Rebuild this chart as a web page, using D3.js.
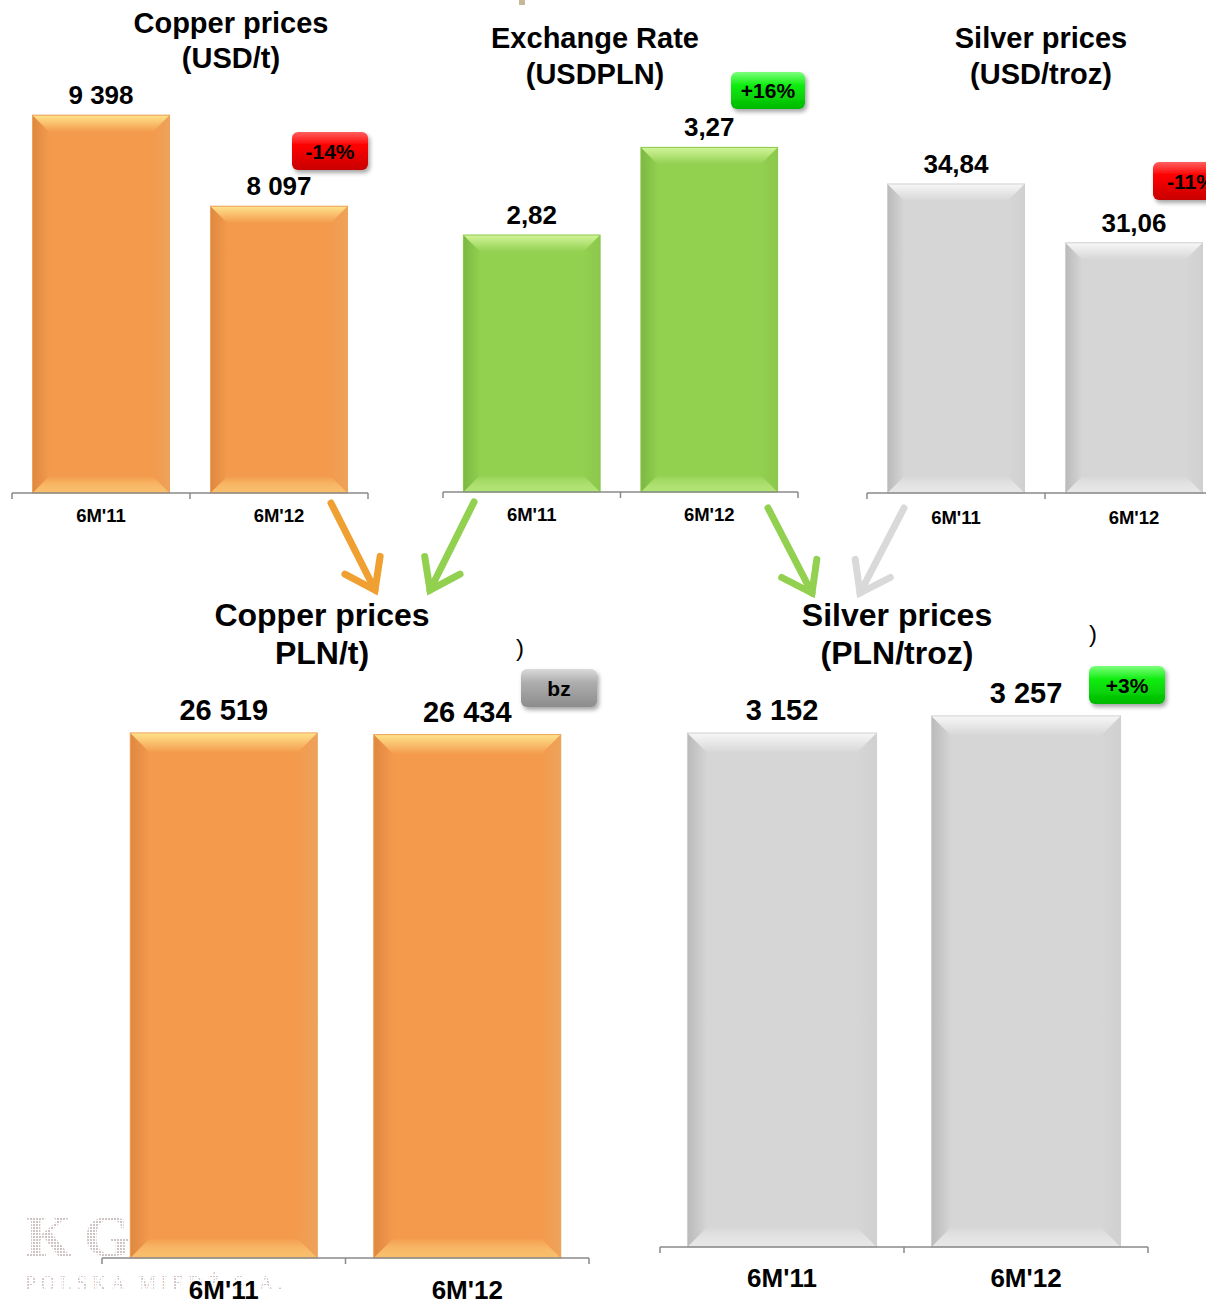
<!DOCTYPE html>
<html><head><meta charset="utf-8">
<script src="https://cdn.jsdelivr.net/npm/d3@7"></script>
<style>html,body{margin:0;padding:0;background:#fff}svg{display:block}text{font-family:"Liberation Sans",Arial,sans-serif;font-weight:bold}</style>
</head><body>
<svg id="c" width="1206" height="1301"></svg>
<script>
const categories = ["6M'11", "6M'12"];
const copperUsd = [9398, 8097];
const usdPln = [2.82, 3.27];
const silverUsd = [34.84, 31.06];
const copperPln = [26519, 26434];
const silverPln = [3152, 3257];
const changeLabels = ["-14%", "+16%", "-11%", "bz", "+3%"];
const titleCopperUsd = ["Copper prices", "(USD/t)"];
const titleRate = ["Exchange Rate", "(USDPLN)"];
const titleSilverUsd = ["Silver prices", "(USD/troz)"];
const titleCopperPln = ["Copper prices", "PLN/t)"];
const titleSilverPln = ["Silver prices", "(PLN/troz)"];

const loc = d3.formatLocale({decimal: ",", thousands: " ", grouping: [3], currency: ["", ""]});
const fInt = loc.format(",d"), fDec = loc.format(",.2f");

const palettes = {
  orange: {base: "#F39A4C", light: "#FFE38C", dark: "#DE8840", edge: "#EDA35C"},
  green:  {base: "#92D050", light: "#D2F59A", dark: "#7BB842", edge: "#8CC84C"},
  gray:   {base: "#D6D6D6", light: "#F7F7F7", dark: "#BABABA", edge: "#D0D0D0"}
};

const svg = d3.select("#c");
const defs = svg.append("defs");
Object.entries(palettes).forEach(([k, p]) => {
  const gt = defs.append("linearGradient").attr("id", "top-" + k).attr("x1", 0).attr("y1", 0).attr("x2", 0).attr("y2", 1);
  gt.append("stop").attr("offset", 0).attr("stop-color", p.light);
  gt.append("stop").attr("offset", 1).attr("stop-color", p.base);
  const gl = defs.append("linearGradient").attr("id", "left-" + k).attr("x1", 0).attr("y1", 0).attr("x2", 1).attr("y2", 0);
  gl.append("stop").attr("offset", 0).attr("stop-color", p.dark);
  gl.append("stop").attr("offset", 1).attr("stop-color", p.base);
  const gb = defs.append("linearGradient").attr("id", "bot-" + k).attr("x1", 0).attr("y1", 0).attr("x2", 0).attr("y2", 1);
  gb.append("stop").attr("offset", 0).attr("stop-color", p.base);
  gb.append("stop").attr("offset", 1).attr("stop-color", p.light).attr("stop-opacity", 0.5);
  const gr = defs.append("linearGradient").attr("id", "right-" + k).attr("x1", 0).attr("y1", 0).attr("x2", 1).attr("y2", 0);
  gr.append("stop").attr("offset", 0).attr("stop-color", p.base);
  gr.append("stop").attr("offset", 1).attr("stop-color", p.edge);
});
const badgeCols = {
  red: ["#FF6060", "#FF0000", "#C80000"],
  green: ["#7CFF7C", "#11EE11", "#00B800"],
  gray: ["#DADADA", "#AEAEAE", "#8C8C8C"]
};
Object.entries(badgeCols).forEach(([k, c]) => {
  const g = defs.append("linearGradient").attr("id", "badge-" + k).attr("x1", 0).attr("y1", 0).attr("x2", 0).attr("y2", 1);
  g.append("stop").attr("offset", 0).attr("stop-color", c[0]);
  g.append("stop").attr("offset", 0.35).attr("stop-color", c[1]);
  g.append("stop").attr("offset", 1).attr("stop-color", c[2]);
});
const sh = defs.append("filter").attr("id", "shadow").attr("x", "-20%").attr("y", "-20%").attr("width", "150%").attr("height", "160%");
sh.append("feDropShadow").attr("dx", 2).attr("dy", 3).attr("stdDeviation", 2).attr("flood-color", "#000").attr("flood-opacity", 0.35);
const pat = defs.append("pattern").attr("id", "dots").attr("width", 3).attr("height", 3).attr("patternUnits", "userSpaceOnUse");
pat.append("rect").attr("width", 2).attr("height", 2).attr("fill", "#cfc4c4");

// watermark
const wm = svg.append("g").attr("fill", "url(#dots)");
wm.append("text").attr("x", 25).attr("y", 1256).attr("font-size", 60)
  .style("font-family", "Liberation Serif, serif").attr("letter-spacing", 12).text("KG");
wm.append("text").attr("x", 25).attr("y", 1290).attr("font-size", 20)
  .style("font-family", "Liberation Serif, serif").style("font-weight", "normal").attr("letter-spacing", 4.5).text("POLSKA MIEDŹ S.A.");

// stray fragments
svg.append("rect").attr("x", 519).attr("y", 0).attr("width", 6).attr("height", 5).attr("fill", "#C8B89A");
svg.append("text").attr("x", 516).attr("y", 656).attr("font-size", 24).style("font-weight", "normal").text(")");
svg.append("text").attr("x", 1089).attr("y", 642).attr("font-size", 24).style("font-weight", "normal").text(")");

const panels = [
  {vals: copperUsd, fmt: fInt, x0: 12, x1: 368, axisY: 493, dom: [4000, 10000], top: 73, color: "orange",
   bevel: 17, vSize: 26, vOff: 11, cSize: 18.5, cY: 522, title: titleCopperUsd, tX: 231, tY: [33, 68], tSize: 29, pad: 0.23},
  {vals: usdPln, fmt: fDec, x0: 443, x1: 798, axisY: 492, dom: [1.5, 3.5], top: 102.6, color: "green",
   bevel: 17, vSize: 26, vOff: 11, cSize: 18.5, cY: 520.5, title: titleRate, tX: 595, tY: [48, 84], tSize: 29, pad: 0.23},
  {vals: silverUsd, fmt: fDec, x0: 867, x1: 1223, axisY: 493, dom: [15, 40], top: 103.6, color: "gray",
   bevel: 17, vSize: 26, vOff: 11, cSize: 18.5, cY: 523.5, title: titleSilverUsd, tX: 1041, tY: [48, 84], tSize: 29, pad: 0.23},
  {vals: copperPln, fmt: fInt, x0: 102, x1: 589, axisY: 1258, dom: [0, 30000], top: 664, color: "orange",
   bevel: 20, vSize: 29, vOff: 13, cSize: 26, cY: 1299, title: titleCopperPln, tX: 322, tY: [626, 664], tSize: 32, pad: 0.232},
  {vals: silverPln, fmt: fInt, x0: 660, x1: 1148, axisY: 1247, dom: [0, 3500], top: 676.3, color: "gray",
   bevel: 20, vSize: 29, vOff: 13, cSize: 26, cY: 1287, title: titleSilverPln, tX: 897, tY: [626, 664], tSize: 32, pad: 0.225}
];

panels.forEach(p => {
  const g = svg.append("g");
  const x = d3.scaleBand().domain(categories).range([p.x0, p.x1]).paddingInner(p.pad).paddingOuter(p.pad / 2);
  const y = d3.scaleLinear().domain(p.dom).range([p.axisY, p.top]);
  const pal = palettes[p.color];
  const data = categories.map((c, i) => ({c, v: p.vals[i]}));
  const bars = g.selectAll("g.bar").data(data).join("g").attr("class", "bar");
  bars.each(function(d) {
    const bx = x(d.c), bw = x.bandwidth(), by = y(d.v), bh = p.axisY - by, b = p.bevel;
    const s = d3.select(this);
    s.append("rect").attr("x", bx).attr("y", by).attr("width", bw).attr("height", bh).attr("fill", pal.base);
    s.append("polygon").attr("points", [[bx, by], [bx + b, by + b], [bx + b, by + bh - b], [bx, by + bh]].join(" ")).attr("fill", `url(#left-${p.color})`);
    s.append("polygon").attr("points", [[bx + bw, by], [bx + bw - b, by + b], [bx + bw - b, by + bh - b], [bx + bw, by + bh]].join(" ")).attr("fill", `url(#right-${p.color})`);
    s.append("polygon").attr("points", [[bx, by + bh], [bx + b, by + bh - b], [bx + bw - b, by + bh - b], [bx + bw, by + bh]].join(" ")).attr("fill", `url(#bot-${p.color})`);
    s.append("polygon").attr("points", [[bx, by], [bx + bw, by], [bx + bw - b, by + b], [bx + b, by + b]].join(" ")).attr("fill", `url(#top-${p.color})`);
    s.append("rect").attr("x", bx).attr("y", by).attr("width", bw).attr("height", bh).attr("fill", "none").attr("stroke", pal.edge).attr("stroke-width", 1);
    s.append("text").attr("x", bx + bw / 2).attr("y", by - p.vOff).attr("text-anchor", "middle").attr("font-size", p.vSize).attr("fill", "#000").text(p.fmt(d.v));
  });
  // axis
  const step = x.step();
  g.append("line").attr("x1", p.x0).attr("x2", p.x1).attr("y1", p.axisY).attr("y2", p.axisY).attr("stroke", "#8a8a8a").attr("stroke-width", 1.5);
  d3.range(categories.length + 1).forEach(i => {
    const tx = p.x0 + i * step;
    g.append("line").attr("x1", tx).attr("x2", tx).attr("y1", p.axisY).attr("y2", p.axisY + 6).attr("stroke", "#8a8a8a").attr("stroke-width", 1.5);
  });
  g.selectAll("text.cat").data(categories).join("text").attr("class", "cat")
    .attr("x", c => x(c) + x.bandwidth() / 2).attr("y", p.cY).attr("text-anchor", "middle").attr("font-size", p.cSize).text(c => c);
  g.selectAll("text.title").data(p.title).join("text").attr("class", "title")
    .attr("x", p.tX).attr("y", (t, i) => p.tY[i]).attr("text-anchor", "middle").attr("font-size", p.tSize).text(t => t);
});

// arrows
const arrows = [
  {from: [331, 503], to: [375, 590], color: "#F0A030"},
  {from: [474, 502], to: [430, 590], color: "#92D050"},
  {from: [768, 508], to: [812, 593], color: "#92D050"},
  {from: [904, 508], to: [860, 593], color: "#D9D9D9"}
];
arrows.forEach(a => {
  const [x1, y1] = a.from, [x2, y2] = a.to;
  const ang = Math.atan2(y2 - y1, x2 - x1);
  const L = 34, sp = 0.62;
  const p1 = [x2 - L * Math.cos(ang - sp), y2 - L * Math.sin(ang - sp)];
  const p2 = [x2 - L * Math.cos(ang + sp), y2 - L * Math.sin(ang + sp)];
  const line = d3.line();
  svg.append("path").attr("d", line([a.from, a.to])).attr("stroke", a.color).attr("stroke-width", 7).attr("fill", "none").attr("stroke-linecap", "round");
  svg.append("path").attr("d", line([p1, a.to, p2])).attr("stroke", a.color).attr("stroke-width", 7).attr("fill", "none").attr("stroke-linecap", "round").attr("stroke-linejoin", "miter");
});

// badges
const badges = [
  {x: 292, y: 132, w: 76, h: 38, col: "red"},
  {x: 731, y: 72, w: 74, h: 37, col: "green"},
  {x: 1153, y: 162, w: 76, h: 38, col: "red"},
  {x: 521, y: 669, w: 76, h: 38, col: "gray"},
  {x: 1089, y: 666, w: 76, h: 38, col: "green"}
];
badges.forEach((b, i) => {
  const g = svg.append("g");
  g.append("rect").attr("x", b.x).attr("y", b.y).attr("width", b.w).attr("height", b.h).attr("rx", 6)
    .attr("fill", `url(#badge-${b.col})`).attr("filter", "url(#shadow)");
  g.append("text").attr("x", b.x + b.w / 2).attr("y", b.y + b.h / 2 + 7.5).attr("text-anchor", "middle")
    .attr("font-size", 21).attr("fill", "#000").text(changeLabels[i]);
});
</script>
</body></html>
